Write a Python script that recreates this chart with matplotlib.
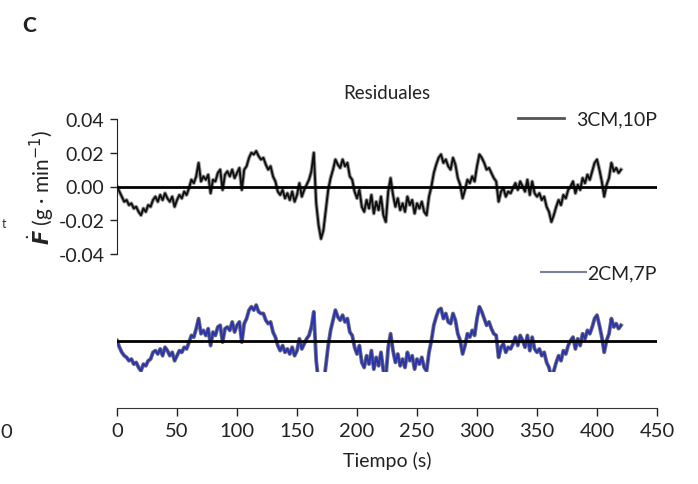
import numpy as np
import matplotlib
matplotlib.use("Agg")
import matplotlib.pyplot as plt
from matplotlib.patches import Rectangle

plt.rcParams["font.family"] = ["Lato", "DejaVu Sans"]
plt.rcParams["mathtext.fontset"] = "dejavusans"

# residuales cada 2 s, en milésimas de g/min
tiempo = np.arange(0, 422, 2)

res_3cm_10p = [
    0, -3, -6, -9, -8,   -11, -10, -13, -12, -15,
    -17, -13, -15, -11, -12,   -8, -6, -9, -5, -8,
    -4, -7, -9, -6, -12,   -8, -5, -7, -3, -5,
    -1, 4, 2, 6, 14,   3, 6, 4, 7, -4,
    4, 3, 8, 10, -2,   7, 9, 6, 10, 5,
    8, 11, -2, 10, 12,   17, 20, 19, 21, 18,
    16, 17, 13, 10, 12,   6, 3, -3, -5, -2,
    -7, -4, -8, -3, -9,   -5, 2, -6, -2, 1,
    4, 9, 20, -10, -23,   -31, -26, -14, -2, 5,
    10, 16, 13, 11, 16,   12, 14, 6, 4, -3,
    -7, -2, -12, -15, -8,   -13, -5, -16, -9, -14,
    -6, -17, -21, -3, 5,   -5, -12, -7, -14, -10,
    -15, -6, -11, -8, -16,   -10, -13, -9, -15, -17,
    -6, 0, 8, 13, 17,   19, 14, 16, 12, 10,
    17, 13, 5, 1, -7,   -2, 4, 2, 6, 3,
    12, 19, 17, 14, 10,   11, 8, 5, 3, -9,
    -3, -1, -6, -3, -4,   -1, 2, -2, 3, 0,
    -3, 4, -5, 3, -4,   -6, -4, -8, -6, -12,
    -15, -21, -17, -12, -8,   -11, -5, -7, -2, 0,
    3, -4, 1, -2, 5,   2, 7, 4, 9, 14,
    16, 10, 3, -6, 1,   5, 14, 9, 11, 8,
    10,
]

res_2cm_7p = [
    0, -4, -7, -9, -10,   -12, -11, -14, -13, -16,
    -18, -14, -15, -12, -11,   -7, -6, -8, -5, -9,
    -4, -6, -9, -7, -12,   -9, -6, -7, -4, -5,
    -1, 3, 2, 7, 13,   4, 6, 3, 7, -3,
    5, 3, 8, 9, -1,   7, 8, 6, 11, 5,
    9, 11, -1, 10, 13,   18, 20, 18, 21, 17,
    16, 16, 12, 10, 11,   5, 2, -3, -6, -3,
    -7, -5, -8, -4, -9,   -6, 1, -5, -2, 1,
    3, 8, 17, -12, -25,   -30, -27, -15, -3, 6,
    12, 18, 14, 12, 15,   11, 13, 5, 3, -4,
    -8, -3, -13, -16, -9,   -14, -6, -17, -10, -15,
    -7, -18, -22, -4, 4,   -6, -13, -8, -15, -11,
    -16, -7, -12, -9, -17,   -11, -14, -10, -16, -18,
    -7, 0, 9, 14, 18,   19, 13, 16, 11, 10,
    16, 12, 4, 0, -8,   -3, 4, 2, 6, 3,
    13, 20, 17, 13, 9,   11, 7, 4, 3, -10,
    -4, -2, -7, -4, -5,   -2, 2, -3, 3, 0,
    -4, 3, -6, 2, -5,   -7, -5, -9, -7, -13,
    -16, -22, -18, -13, -9,   -12, -6, -8, -3, 0,
    2, -5, 1, -3, 4,   1, 6, 4, 8, 13,
    15, 9, 2, -7, 0,   4, 13, 8, 10, 7,
    9,
]

y_3cm = np.array(res_3cm_10p) / 1000
y_2cm = np.array(res_2cm_7p) / 1000

x_ticks = [0, 50, 100, 150, 200, 250, 300, 350, 400, 450]
y_ticks = [-0.04, -0.02, 0.00, 0.02, 0.04]

W, H = 698, 485
fig = plt.figure(figsize=(W / 100, H / 100), dpi=100)

def fig_rect(x0, y_top, x1, y_bot):
    return [x0 / W, 1 - y_bot / H, (x1 - x0) / W, (y_bot - y_top) / H]

ax_top = fig.add_axes(fig_rect(117, 120, 657, 255))
ax_bot = fig.add_axes(fig_rect(117, 274, 657, 409))

for ax in (ax_top, ax_bot):
    ax.set_xlim(0, 450)
    ax.set_ylim(-0.04, 0.04)
    ax.patch.set_alpha(0)
    for s in ("top", "right"):
        ax.spines[s].set_visible(False)
    ax.axhline(0, color="black", lw=2.0, zorder=3)

# panel superior: 3CM,10P
ax_top.plot(tiempo, y_3cm, color="#9a9a9a", lw=2.8, zorder=1)
ax_top.plot(tiempo, y_3cm, color="#101010", lw=1.4, zorder=2, label="3CM,10P")
ax_top.spines["bottom"].set_visible(False)
ax_top.spines["left"].set_color("#222222")
ax_top.set_xticks([])
ax_top.set_yticks(y_ticks)
ax_top.set_yticklabels([f"{v:.2f}" for v in y_ticks])
ax_top.tick_params(axis="y", direction="out", length=5, width=1, pad=4,
                   labelsize=14, colors="#222222")
ax_top.set_ylabel(r"$\dot{\mathbfit{F}}$ (g · min$^{-1}$)", fontsize=15,
                  color="#222222", labelpad=2)
ax_top.set_title("Residuales", fontsize=13.5, color="#222222", pad=15)

# panel inferior: 2CM,7P (recortado por debajo)
clip = Rectangle((0, -0.0187), 450, 0.06, transform=ax_bot.transData)
l1, = ax_bot.plot(tiempo, y_2cm, color="#70707a", lw=2.8, zorder=1)
l2, = ax_bot.plot(tiempo, y_2cm, color="#2a34b0", lw=1.5, zorder=2, label="2CM,7P")
l1.set_clip_path(clip)
l2.set_clip_path(clip)
ax_bot.spines["left"].set_visible(False)
ax_bot.spines["bottom"].set_color("#333333")
ax_bot.set_yticks([])
ax_bot.set_xticks(x_ticks)
ax_bot.tick_params(axis="x", direction="out", length=6, width=1, pad=4,
                   labelsize=14.5, colors="#222222")
ax_bot.set_xlabel("Tiempo (s)", fontsize=14, color="#222222", labelpad=9)

leg_top = ax_top.legend(loc="center right", bbox_to_anchor=(1.0, 1.0),
                        frameon=False, fontsize=14, handlelength=2.4,
                        handletextpad=0.6, borderaxespad=0, borderpad=0)
leg_top.get_lines()[0].set_color("#555555")
leg_top.get_lines()[0].set_linewidth(2.0)
leg_top.get_texts()[0].set_color("#222222")

leg_bot = ax_bot.legend(loc="center right", bbox_to_anchor=(1.0, 1.0),
                        frameon=False, fontsize=14, handlelength=2.3,
                        handletextpad=0.1, borderaxespad=0, borderpad=0)
leg_bot.get_lines()[0].set_color("#7a7f9a")
leg_bot.get_lines()[0].set_linewidth(1.5)
leg_bot.get_texts()[0].set_color("#222222")

# letra del panel y restos del panel vecino
fig.text(22 / W, 1 - 25 / H, "C", fontsize=15, fontweight="black",
         color="#222222", ha="left", va="center")
fig.text(2 / W, 1 - 224 / H, "t", fontsize=9, color="#333333",
         ha="left", va="center")
fig.text(0 / W, 1 - 432 / H, "0", fontsize=14.5, color="#222222",
         ha="left", va="center")

fig.savefig("out.png", dpi=100)
